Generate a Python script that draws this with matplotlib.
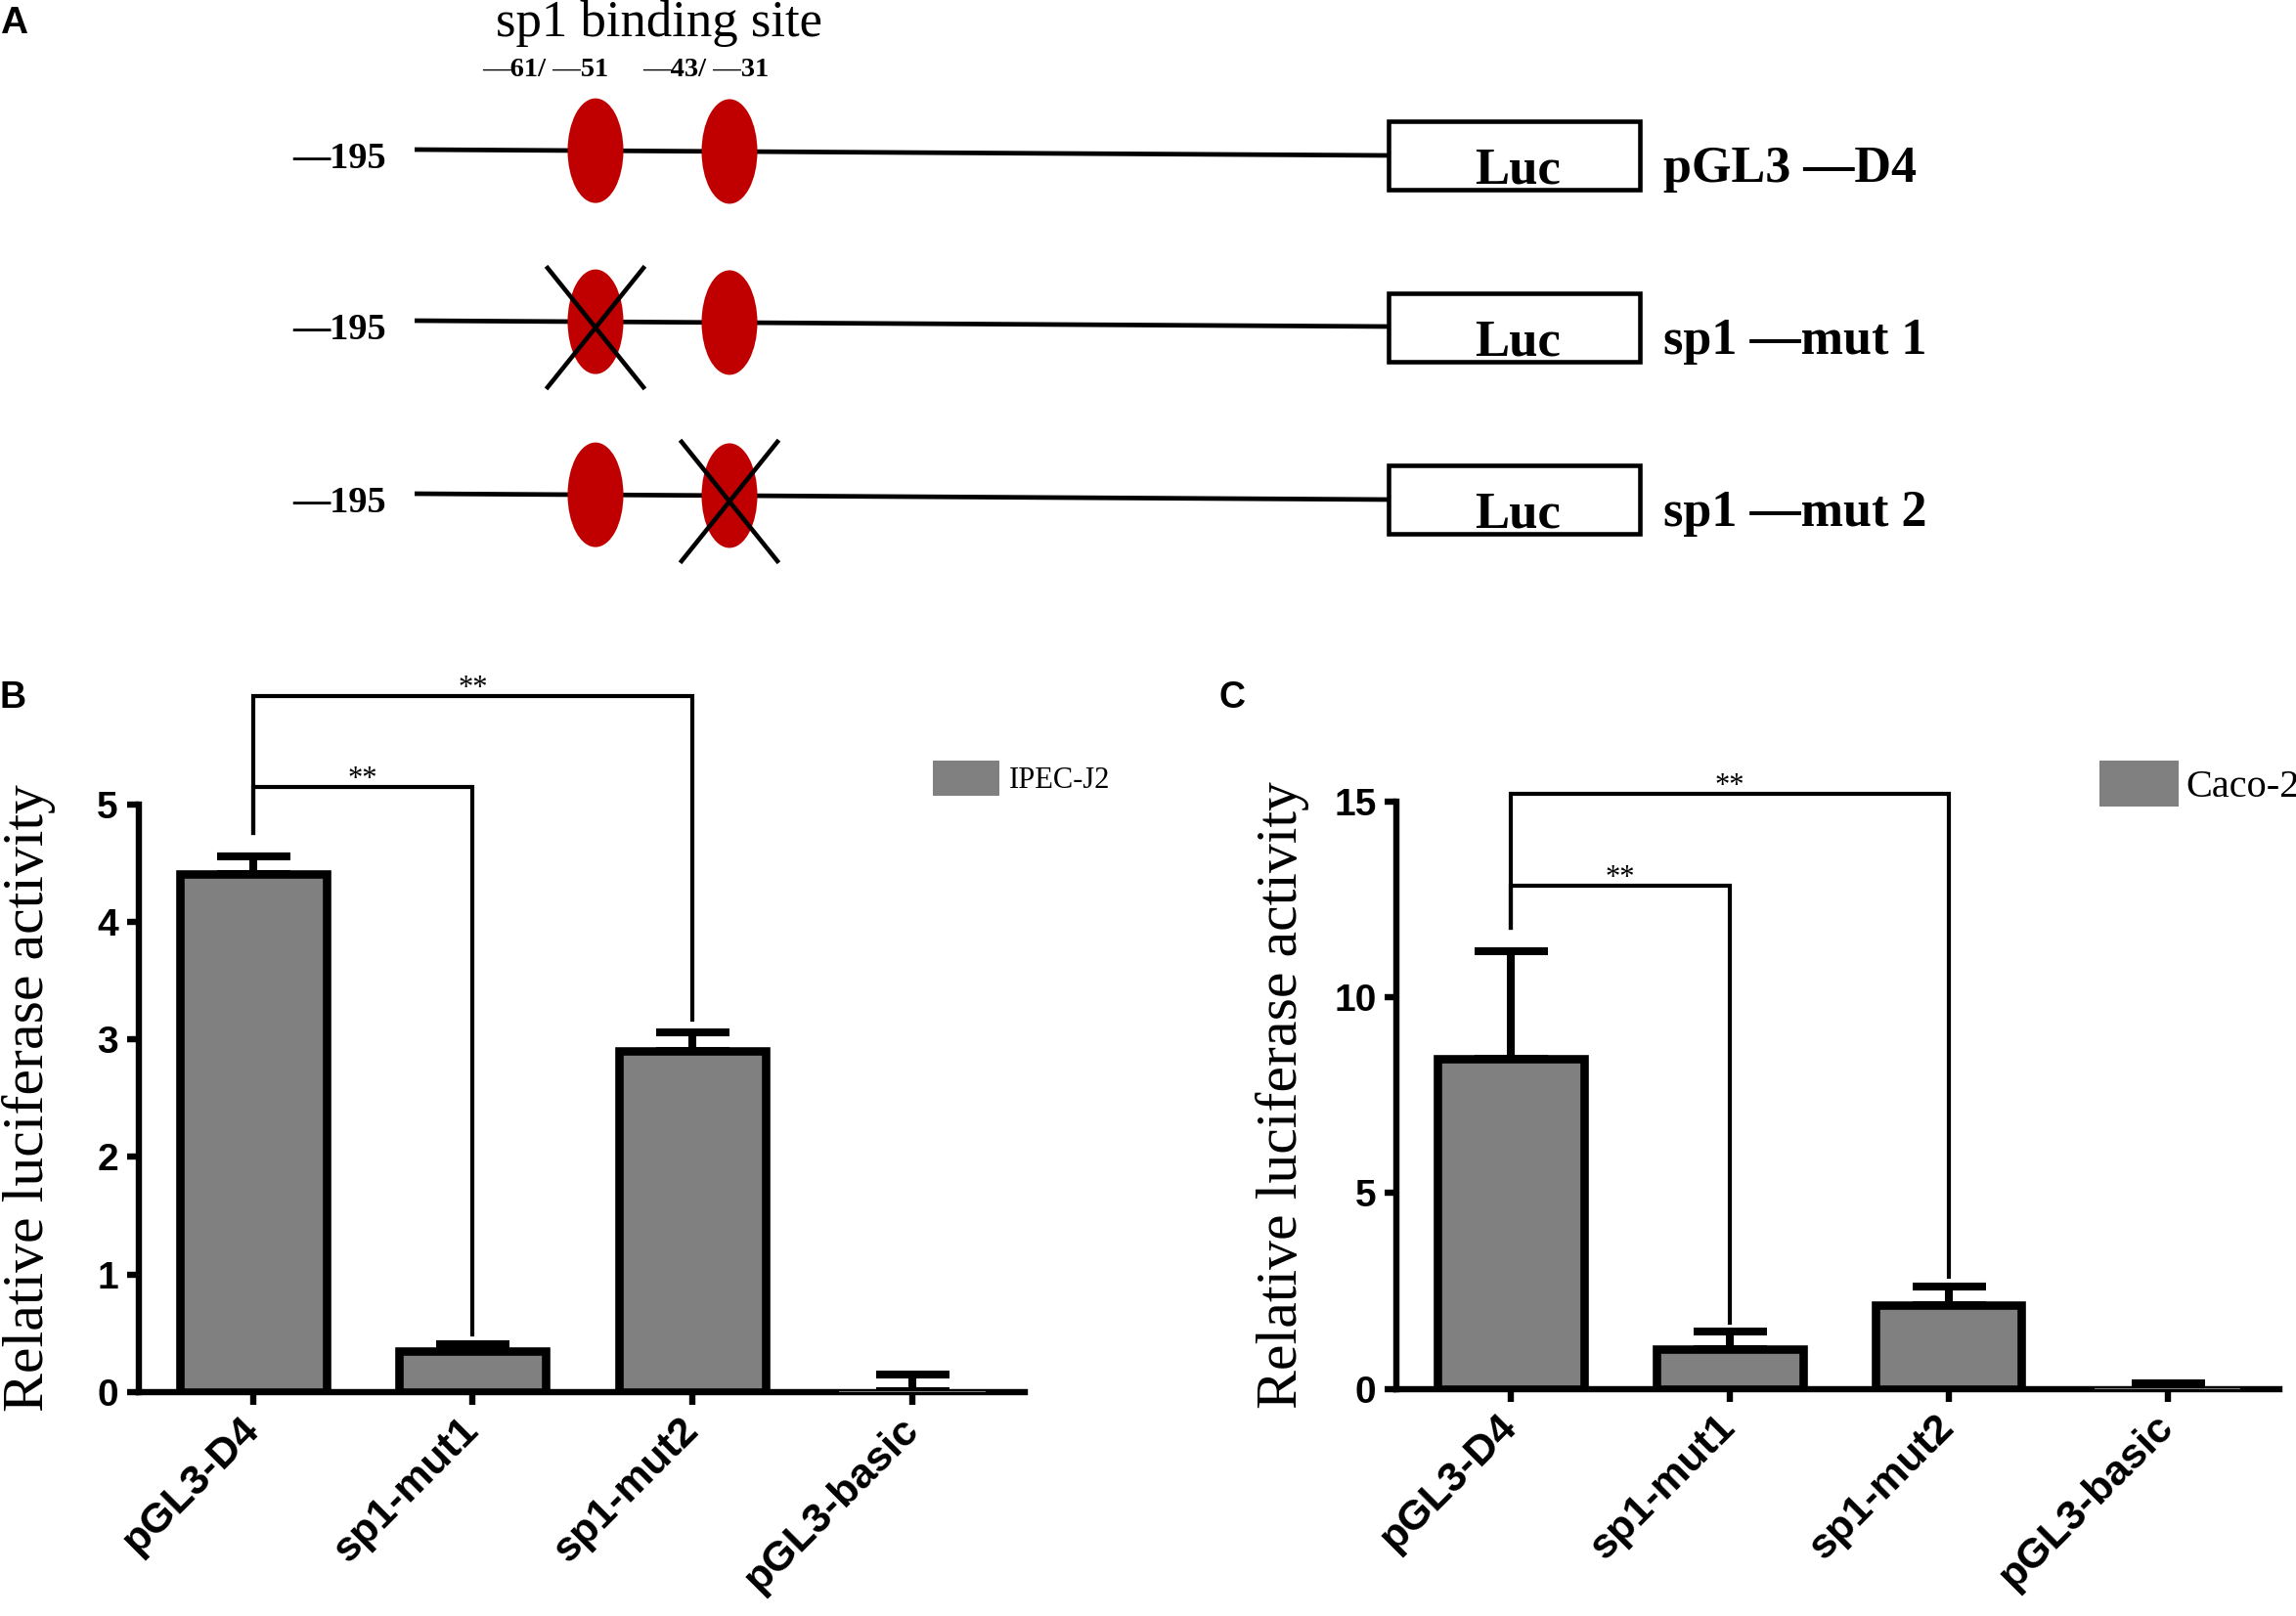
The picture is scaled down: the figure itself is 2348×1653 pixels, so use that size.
import matplotlib
matplotlib.use('Agg')
import matplotlib.pyplot as plt
from matplotlib.patches import Ellipse, Rectangle, Patch

W, H = 2348, 1653
DPI = 100

# ---------------- data ----------------
categories = ['pGL3-D4', 'sp1-mut1', 'sp1-mut2', 'pGL3-basic']
ipec_mean = [4.41, 0.35, 2.90, 0.01]
ipec_err = [0.15, 0.06, 0.16, 0.14]
caco_mean = [8.42, 1.03, 2.14, 0.02]
caco_err = [2.75, 0.43, 0.48, 0.12]
ipec_yticks = [0, 1, 2, 3, 4, 5]
caco_yticks = [0, 5, 10, 15]
# brackets: (left group, right group, top y, left-bottom y, right-bottom y)
ipec_brackets = [(0, 2, 5.92, 4.76, 3.17), (0, 1, 5.15, 4.76, 0.49)]
caco_brackets = [(0, 2, 15.19, 11.77, 2.87), (0, 1, 12.84, 11.77, 1.68)]
sig_label = '**'
ylabel = 'Relative luciferase activity'

constructs = ['pGL3 —D4', 'sp1 —mut 1', 'sp1 —mut 2']
mutated_site = [None, 0, 1]
site_labels = ['—61/ —51', '—43/ —31']
start_label = '—195'
site_title = 'sp1 binding site'
reporter = 'Luc'

SERIF = 'Liberation Serif'
SANS = 'Liberation Sans'
GRAY = '#808080'

fig = plt.figure(figsize=(W / DPI, H / DPI), dpi=DPI)

# ---------------- panel A (diagram in pixel space) ----------------
axA = fig.add_axes([0, 0, 1, 1], zorder=-1)
axA.set_xlim(0, W)
axA.set_ylim(H, 0)
axA.axis('off')

row_y = [153, 328, 505]
box_top = [124, 300, 476]
line_x0, line_x1 = 424, 1420
slope = 6
site_x = [609, 746]

axA.text(674, 37, site_title, ha='center', va='baseline', family=SERIF, fontsize=38)
for j, lab in enumerate(site_labels):
    axA.text([558, 722][j], 78, lab, ha='center', va='baseline', family=SERIF,
             fontweight='bold', fontsize=20.5)

for i, name in enumerate(constructs):
    y0 = row_y[i]
    axA.plot([line_x0, line_x1], [y0, y0 + slope], color='black', lw=3.4,
             solid_capstyle='butt')
    axA.text(395, y0 + 19, start_label, ha='right', va='baseline', family=SERIF,
             fontweight='bold', fontsize=27.5)
    for j, sx in enumerate(site_x):
        yc = y0 + slope * (sx - line_x0) / (line_x1 - line_x0)
        axA.add_patch(Ellipse((sx, yc), 57, 107, facecolor='#C00000',
                              edgecolor='none', zorder=3))
        if mutated_site[i] == j:
            cy = yc + 6
            axA.plot([sx - 49, sx + 49], [cy - 61, cy + 61], color='black', lw=3.3, zorder=4)
            axA.plot([sx - 49, sx + 49], [cy + 61, cy - 61], color='black', lw=3.3, zorder=4)
    bt = box_top[i]
    axA.add_patch(Rectangle((1420, bt), 257, 70, facecolor='white',
                            edgecolor='black', lw=3.3, zorder=3))
    axA.text(1552, bt + 63, reporter, ha='center', va='baseline', family=SERIF,
             fontweight='bold', fontsize=38, zorder=5)
    axA.text(1701, bt + 62, name, ha='left', va='baseline', family=SERIF,
             fontweight='bold', fontsize=37.5)

# panel letters
axA.text(0, 34, 'A', ha='left', va='baseline', family=SANS, fontweight='bold', fontsize=28)
axA.text(0, 724, 'B', ha='left', va='baseline', family=SANS, fontweight='bold', fontsize=27)
axA.text(1247, 724, 'C', ha='left', va='baseline', family=SANS, fontweight='bold', fontsize=27)


# ---------------- bar panels ----------------
def bar_panel(rect, means, errs, yticks, brackets, legend_label, leg_xy,
              leg_size, leg_hl, leg_hh, leg_pad, label_x):
    ax = fig.add_axes(rect)
    x = list(range(len(categories)))
    span = yticks[-1] - yticks[0]
    edges = ['black' if m > 0.02 * span else 'none' for m in means]
    ax.bar(x, means, width=0.667, color=GRAY, edgecolor=edges, linewidth=6.2,
           zorder=3)
    ax.errorbar(x, means, yerr=[[0] * len(errs), errs], fmt='none', ecolor='black',
                elinewidth=5.8, capsize=27, capthick=5.8, zorder=2)
    ax.set_xlim(-0.52, 3.51)
    ax.set_ylim(yticks[0], yticks[-1])
    ax.set_yticks(yticks)
    ax.set_xticks(x)
    ax.set_xticklabels(categories, rotation=45, ha='right', va='center',
                       rotation_mode='anchor', family=SANS, fontweight='bold',
                       fontsize=31)
    ax.set_yticklabels([str(t) for t in yticks], family=SANS, fontweight='bold',
                       fontsize=28)
    for s in ['top', 'right']:
        ax.spines[s].set_visible(False)
    for s in ['left', 'bottom']:
        ax.spines[s].set_linewidth(4.6)
    ax.tick_params(axis='y', direction='out', width=4.6, length=9, pad=6)
    ax.tick_params(axis='x', direction='out', width=4.6, length=9.5, pad=14)
    ax.set_ylabel(ylabel, family=SERIF, fontsize=43)
    ax.yaxis.set_label_coords(label_x, 0.5)
    for (g0, g1, top, lb, rb) in brackets:
        ax.plot([g0, g0, g1, g1], [lb, top, top, rb], color='black', lw=3.0,
                clip_on=False, solid_joinstyle='miter')
        ax.text((g0 + g1) / 2, top, sig_label, ha='center', va='baseline',
                family=SERIF, fontsize=22, clip_on=False)
    h = Patch(facecolor=GRAY, edgecolor='none', label=legend_label)
    ax.legend(handles=[h], loc='upper left', bbox_to_anchor=leg_xy,
              bbox_transform=fig.transFigure, frameon=False,
              prop={'family': SERIF, 'size': leg_size}, handlelength=leg_hl,
              handleheight=leg_hh, handletextpad=leg_pad, borderpad=0,
              borderaxespad=0)
    return ax


axB = bar_panel([141.6 / W, 1 - 1424 / H, (1048 - 141.6) / W, (1424 - 822.7) / H],
                ipec_mean, ipec_err, ipec_yticks, ipec_brackets, 'IPEC-J2',
                (954 / W, 1 - 778 / H), 22, 2.22, 1.44, 0.33, -0.093)
axC = bar_panel([1428.4 / W, 1 - 1420.8 / H, (2331 - 1428.4) / W, (1420.8 - 819.5) / H],
                caco_mean, caco_err, caco_yticks, caco_brackets, 'Caco-2',
                (2147 / W, 1 - 778 / H), 29, 2.0, 1.41, 0.2, -0.099)

fig.savefig('out.png', dpi=DPI)
